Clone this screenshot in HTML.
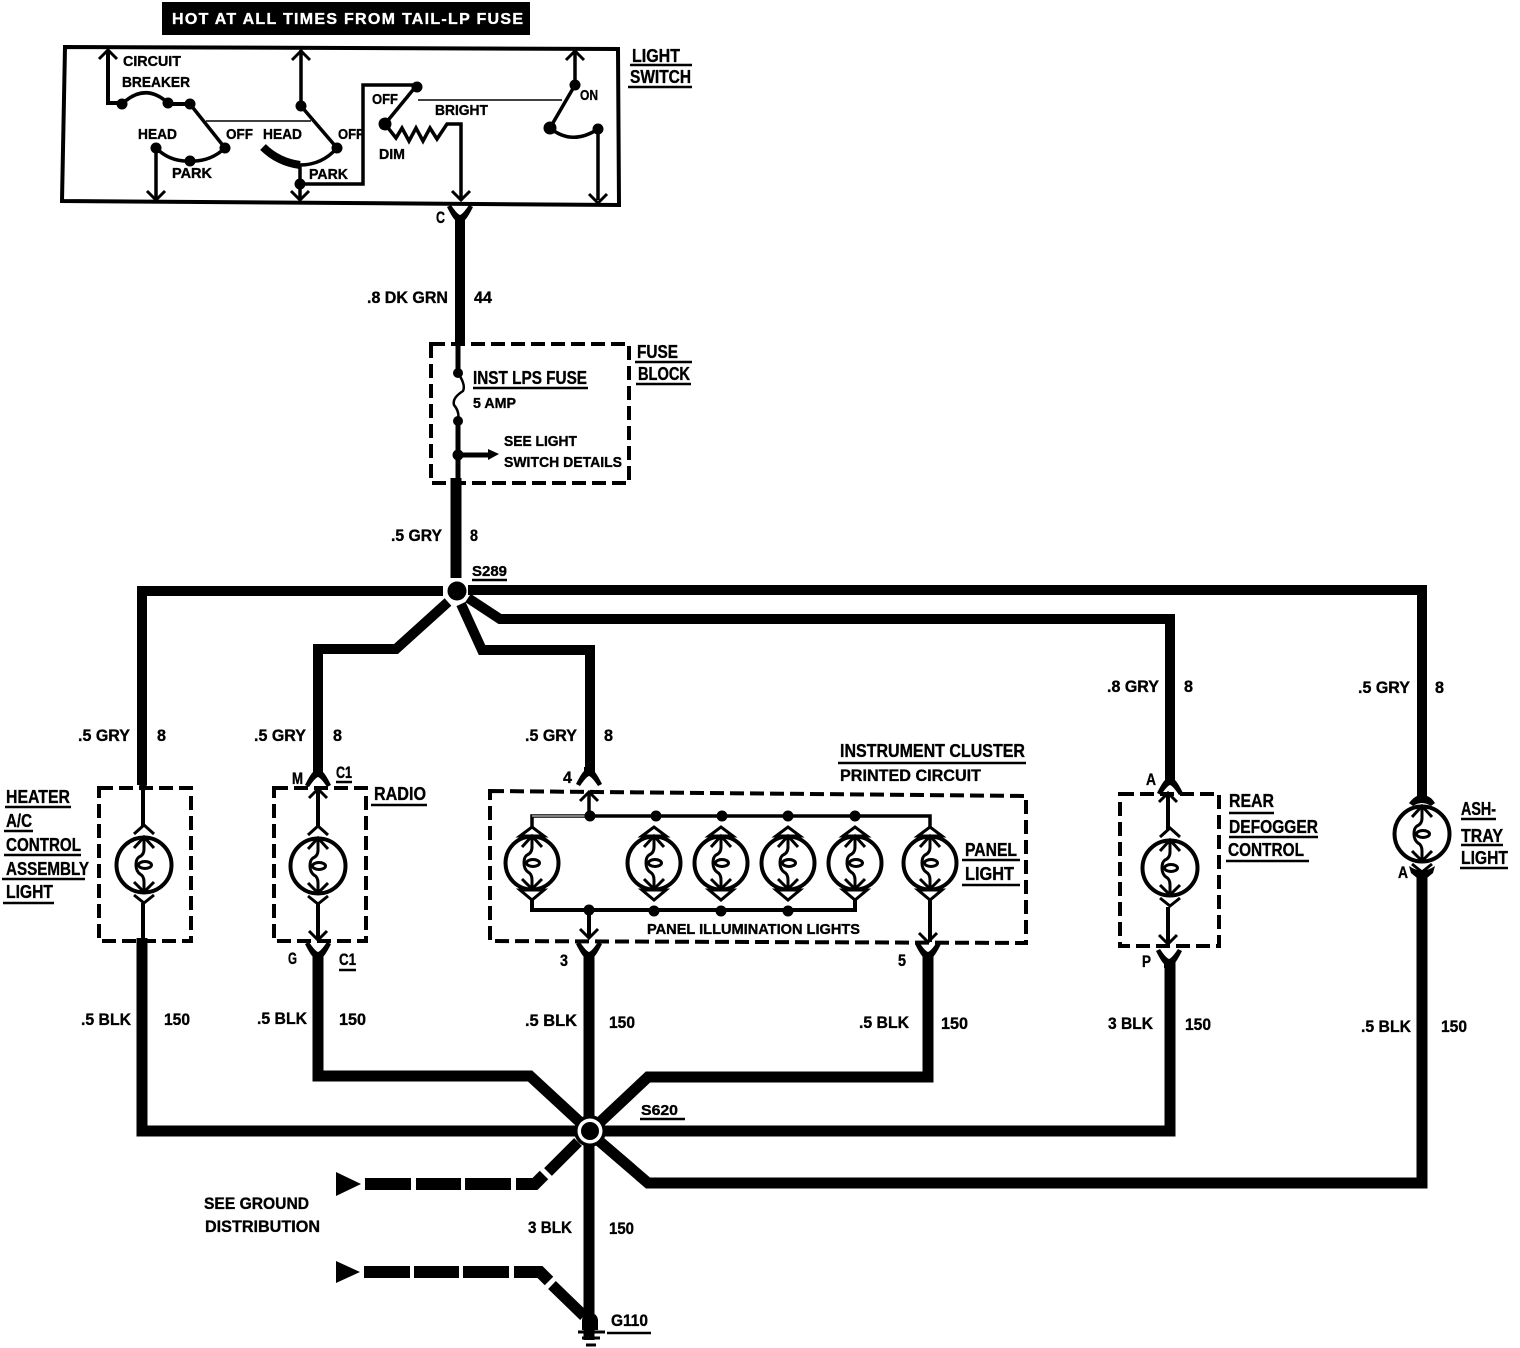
<!DOCTYPE html>
<html><head><meta charset="utf-8"><style>
html,body{margin:0;padding:0;background:#fff}
svg{display:block}
text{font-family:"Liberation Sans",sans-serif;font-weight:bold;font-size:17px;fill:#000;stroke:#000;stroke-width:.35px}
.s{font-size:14.5px}
.b{font-size:18px}
.w{stroke:#000;stroke-width:10;fill:none;stroke-linejoin:miter}
.t{stroke:#000;stroke-width:4;fill:none}
.h{stroke:#000;stroke-width:1.5;fill:none}
.d{stroke:#000;stroke-width:4;fill:none;stroke-dasharray:14 6}
.u{stroke:#000;stroke-width:2.5;fill:none}
</style></head><body>
<svg xmlns="http://www.w3.org/2000/svg" width="1520" height="1348" viewBox="0 0 1520 1348">
<defs>
<g id="b">
<circle r="27.5" fill="#fff" stroke="#000" stroke-width="4"/>
<path d="M-10,-31 L0,-40 L10,-31 M-10,-17 L0,-28 L10,-17 M-10,17 L0,27 L10,17 M-10,30 L0,38 L10,30" fill="none" stroke="#000" stroke-width="3"/>
<path d="M0,-27 V-16 Q0,-10 -5,-8 Q-8,-6 -8,0 Q-8,6 -4,9 Q0,11 0,17 V27" fill="none" stroke="#000" stroke-width="3"/>
<ellipse cx="1" cy="0" rx="6.5" ry="3.5" fill="none" stroke="#000" stroke-width="3"/>
</g>
<g id="p">
<circle r="26.5" fill="#fff" stroke="#000" stroke-width="4"/>
<path d="M-12,-27 L0,-36 L12,-27 Z M-12,27 L0,37 L12,27 Z" fill="#fff" stroke="#000" stroke-width="3"/>
<path d="M-10,-16 L0,-27 L10,-16 M-10,16 L0,26 L10,16" fill="none" stroke="#000" stroke-width="3"/>
<path d="M0,-27 V-16 Q0,-10 -5,-8 Q-8,-6 -8,0 Q-8,6 -4,9 Q0,11 0,17 V26" fill="none" stroke="#000" stroke-width="3"/>
<ellipse cx="1" cy="0" rx="6.5" ry="3.5" fill="none" stroke="#000" stroke-width="3"/>
</g>
<path id="fu" d="M-13,7 L-9,9 Q-3,0 0,-1 Q3,0 9,9 L13,7 Q8,-3 5,-6 V-10 H-5 V-6 Q-8,-3 -13,7 Z" fill="#000"/>
<path id="fd" d="M-13,-7 L-9,-9 Q-3,0 0,1 Q3,0 9,-9 L13,-7 Q8,3 5,6 V10 H-5 V6 Q-8,3 -13,-7 Z" fill="#000"/>
<path id="au" d="M-9,9 L0,0 L9,9" fill="none" stroke="#000" stroke-width="3"/>
<path id="ad" d="M-9,-9 L0,0 L9,-9" fill="none" stroke="#000" stroke-width="3"/>
</defs>

<!-- Title -->
<rect x="162" y="2" width="368" height="33" fill="#000"/>
<text x="172" y="24" textLength="351" lengthAdjust="spacing" style="fill:#fff;stroke:#fff;font-size:16px">HOT AT ALL TIMES FROM TAIL-LP FUSE</text>

<!-- Switch box -->
<path d="M65,47 L618,49 L619,205 L62,201 Z" class="t"/>
<path d="M108,50 V103 H122" class="t"/>
<path d="M122,104 Q145,82 168,103" fill="none" stroke="#000" stroke-width="3.5"/>
<path d="M168,104 H190 L225,148 Q210,162 190,161 Q170,162 156,148 V200" fill="none" stroke="#000" stroke-width="3.5"/>
<path d="M168,104 H190" class="t"/>
<path d="M206,121 H311" class="h"/>
<path d="M301,50 V106 L337,148 Q322,165 300,165 V200" fill="none" stroke="#000" stroke-width="3.5"/>
<path d="M263,147 Q278,162 300,165" fill="none" stroke="#000" stroke-width="8"/>
<path d="M300,184 H363 V85 H417 L385,124" fill="none" stroke="#000" stroke-width="3.5"/>
<path d="M385,124 L396,138 L402,128 L409,141 L416,128 L423,141 L430,128 L437,139 L447,124 H461 V200" fill="none" stroke="#000" stroke-width="3.5"/>
<path d="M418,100 H562" class="h"/>
<path d="M575,50 V85 L550,128 Q572,146 598,129 V200" fill="none" stroke="#000" stroke-width="3.5"/>
<g fill="#000">
<circle cx="122" cy="104" r="5.5"/><circle cx="168" cy="103" r="5.5"/><circle cx="190" cy="104" r="5.5"/>
<circle cx="225" cy="148" r="5.5"/><circle cx="190" cy="161" r="5.5"/><circle cx="156" cy="148" r="5.5"/>
<circle cx="301" cy="106" r="5.5"/><circle cx="337" cy="148" r="5.5"/><circle cx="300" cy="184" r="5.5"/>
<circle cx="417" cy="87" r="5.5"/><circle cx="385" cy="124" r="6.5"/>
<circle cx="575" cy="85" r="5.5"/><circle cx="550" cy="128" r="6.5"/><circle cx="598" cy="129" r="5.5"/>
</g>
<use href="#au" x="108" y="50"/><use href="#au" x="301" y="51"/><use href="#au" x="575" y="51"/>
<use href="#ad" x="156" y="200"/><use href="#ad" x="300" y="200"/><use href="#ad" x="461" y="200"/><use href="#ad" x="598" y="203"/>
<text class="s" x="123" y="66" textLength="58" lengthAdjust="spacingAndGlyphs">CIRCUIT</text>
<text class="s" x="122" y="87" textLength="68" lengthAdjust="spacingAndGlyphs">BREAKER</text>
<text class="s" x="138" y="139" textLength="39" lengthAdjust="spacingAndGlyphs">HEAD</text>
<text class="s" x="226" y="139" textLength="27" lengthAdjust="spacingAndGlyphs">OFF</text>
<text class="s" x="263" y="139" textLength="39" lengthAdjust="spacingAndGlyphs">HEAD</text>
<text class="s" x="338" y="139" textLength="26" lengthAdjust="spacingAndGlyphs">OFF</text>
<text class="s" x="372" y="104" textLength="26" lengthAdjust="spacingAndGlyphs">OFF</text>
<text class="s" x="435" y="115" textLength="53" lengthAdjust="spacingAndGlyphs">BRIGHT</text>
<text class="s" x="580" y="100" textLength="18" lengthAdjust="spacingAndGlyphs">ON</text>
<text class="s" x="379" y="159" textLength="26" lengthAdjust="spacingAndGlyphs">DIM</text>
<text class="s" x="172" y="178" textLength="40" lengthAdjust="spacingAndGlyphs">PARK</text>
<text class="s" x="309" y="179" textLength="39" lengthAdjust="spacingAndGlyphs">PARK</text>
<text class="b" x="632" y="62" textLength="48" lengthAdjust="spacingAndGlyphs">LIGHT</text>
<path d="M630,65 H692 M628,87 H692" class="u"/>
<text class="b" x="630" y="83" textLength="61" lengthAdjust="spacingAndGlyphs">SWITCH</text>

<!-- Top wire + fuse block -->
<use href="#fd" x="460" y="214"/>
<path d="M460,218 V342" class="w"/>
<text x="436" y="223" textLength="9" lengthAdjust="spacingAndGlyphs">C</text>
<text x="367" y="303" textLength="81" lengthAdjust="spacingAndGlyphs">.8 DK GRN</text>
<text x="474" y="303" textLength="18" lengthAdjust="spacingAndGlyphs">44</text>
<path d="M431,344 H629 V483 H431 Z" class="d"/>
<path d="M458,340 V373 M458,421 V480 M458,455 H490" fill="none" stroke="#000" stroke-width="5"/>
<path d="M458,373 Q466,385 463,391 Q452,398 454,405 Q460,412 458,421" fill="none" stroke="#000" stroke-width="2.5"/>
<path d="M488,449 L499,454 L488,460 Z" fill="#000"/>
<circle cx="458" cy="373" r="5"/><circle cx="458" cy="421" r="5"/><circle cx="458" cy="455" r="5.5"/>
<text class="b" x="473" y="384" textLength="114" lengthAdjust="spacingAndGlyphs">INST LPS FUSE</text>
<path d="M473,388 H588" class="u"/>
<text class="s" x="473" y="408" textLength="43" lengthAdjust="spacingAndGlyphs">5 AMP</text>
<text class="s" x="504" y="446" textLength="73" lengthAdjust="spacingAndGlyphs">SEE LIGHT</text>
<text class="s" x="504" y="467" textLength="118" lengthAdjust="spacingAndGlyphs">SWITCH DETAILS</text>
<text class="b" x="637" y="358" textLength="41" lengthAdjust="spacingAndGlyphs">FUSE</text>
<path d="M635,362 H692 M636,384 H691" class="u"/>
<text class="b" x="638" y="380" textLength="52" lengthAdjust="spacingAndGlyphs">BLOCK</text>
<path d="M456,478 V578" class="w" style="stroke-width:11"/>
<text x="391" y="541" textLength="51" lengthAdjust="spacingAndGlyphs">.5 GRY</text>
<text x="470" y="541" textLength="8" lengthAdjust="spacingAndGlyphs">8</text>
<text class="s" x="472" y="576" textLength="35" lengthAdjust="spacingAndGlyphs">S289</text>
<path d="M472,580 H507" class="u"/>

<!-- S289 -->
<path d="M443,591 H142 V785" class="w"/>
<path d="M448,602 L396,649 H318 V772" class="w"/>
<path d="M461,604 L482,650 H590 V772" class="w"/>
<path d="M468,598 L500,619 H1170 V782" class="w"/>
<path d="M468,590 H1422 V800" class="w"/>
<circle cx="457" cy="591" r="9.5"/>

<text x="78" y="741" textLength="52" lengthAdjust="spacingAndGlyphs">.5 GRY</text>
<text x="157" y="741" textLength="9" lengthAdjust="spacingAndGlyphs">8</text>
<text x="254" y="741" textLength="52" lengthAdjust="spacingAndGlyphs">.5 GRY</text>
<text x="333" y="741" textLength="9" lengthAdjust="spacingAndGlyphs">8</text>
<text x="525" y="741" textLength="52" lengthAdjust="spacingAndGlyphs">.5 GRY</text>
<text x="604" y="741" textLength="9" lengthAdjust="spacingAndGlyphs">8</text>
<text x="1107" y="692" textLength="52" lengthAdjust="spacingAndGlyphs">.8 GRY</text>
<text x="1184" y="692" textLength="9" lengthAdjust="spacingAndGlyphs">8</text>
<text x="1358" y="693" textLength="52" lengthAdjust="spacingAndGlyphs">.5 GRY</text>
<text x="1435" y="693" textLength="9" lengthAdjust="spacingAndGlyphs">8</text>

<!-- Heater -->
<rect x="99" y="788" width="92" height="153" class="d"/>
<path d="M143,785 V826 M143,903 V940" class="t"/>
<use href="#b" x="144" y="865"/>
<path d="M142,938 V1131 H580" class="w" style="stroke-width:11"/>
<circle cx="143" cy="787" r="4"/>
<text class="b" x="6" y="803" textLength="64" lengthAdjust="spacingAndGlyphs">HEATER</text>
<text class="b" x="6" y="827" textLength="26" lengthAdjust="spacingAndGlyphs">A/C</text>
<text class="b" x="6" y="851" textLength="75" lengthAdjust="spacingAndGlyphs">CONTROL</text>
<text class="b" x="6" y="875" textLength="83" lengthAdjust="spacingAndGlyphs">ASSEMBLY</text>
<text class="b" x="6" y="898" textLength="47" lengthAdjust="spacingAndGlyphs">LIGHT</text>
<path d="M5,807 H71 M4,831 H33 M4,855 H81 M2,879 H85 M3,903 H54" class="u"/>

<!-- Radio -->
<rect x="274" y="788" width="92" height="153" class="d"/>
<use href="#fu" x="318" y="778"/>
<path d="M318,790 V826 M318,903 V940" class="t"/>
<use href="#au" x="318" y="789"/>
<use href="#ad" x="318" y="940"/>
<use href="#b" x="318" y="866"/>
<use href="#fd" x="318" y="951"/>
<path d="M318,955 V1076 H530 L582,1124" class="w" style="stroke-width:11"/>
<text x="292" y="784" textLength="11" lengthAdjust="spacingAndGlyphs">M</text>
<text x="336" y="778" textLength="16" lengthAdjust="spacingAndGlyphs">C1</text>
<path d="M336,782 H352 M339,970 H356" class="u"/>
<text x="288" y="964" textLength="9" lengthAdjust="spacingAndGlyphs">G</text>
<text x="339" y="965" textLength="17" lengthAdjust="spacingAndGlyphs">C1</text>
<text class="b" x="374" y="800" textLength="52" lengthAdjust="spacingAndGlyphs">RADIO</text>
<path d="M371,805 H427" class="u"/>

<!-- Panel -->
<path d="M490,791 L1026,796 L1026,943 L490,941 Z" class="d"/>
<use href="#fu" x="589" y="777"/>
<use href="#au" x="589" y="792"/>
<path d="M589,792 V816 M590,816 H930 V828 M532,827 V816 H590" fill="none" stroke="#000" stroke-width="3.5"/>
<path d="M532,816 H590" stroke="#fff" stroke-width="1"/>
<path d="M532,900 V910 H855 V900 M589,910 V936" fill="none" stroke="#000" stroke-width="4"/>
<path d="M930,900 V942" class="t"/>
<use href="#ad" x="589" y="938"/>
<use href="#ad" x="928" y="942"/>
<g fill="#000">
<circle cx="590" cy="816" r="5.5"/><circle cx="656" cy="816" r="5.5"/><circle cx="722" cy="816" r="5.5"/><circle cx="788" cy="816" r="5.5"/><circle cx="855" cy="816" r="5.5"/>
<circle cx="589" cy="910" r="5.5"/><circle cx="654" cy="911" r="5.5"/><circle cx="721" cy="911" r="5.5"/><circle cx="788" cy="911" r="5.5"/>
</g>
<use href="#p" x="532" y="863"/><use href="#p" x="654" y="863"/><use href="#p" x="721" y="863"/><use href="#p" x="788" y="863"/><use href="#p" x="855" y="863"/><use href="#p" x="930" y="863"/>
<use href="#fd" x="589" y="951"/>
<use href="#fd" x="928" y="951"/>
<path d="M589,955 V1340" class="w" style="stroke-width:11"/>
<path d="M928,955 V1077 H648 L598,1124" class="w" style="stroke-width:11"/>
<text x="563" y="783" textLength="9" lengthAdjust="spacingAndGlyphs">4</text>
<text x="560" y="966" textLength="8" lengthAdjust="spacingAndGlyphs">3</text>
<text x="898" y="966" textLength="8" lengthAdjust="spacingAndGlyphs">5</text>
<text class="b" x="840" y="757" textLength="185" lengthAdjust="spacingAndGlyphs">INSTRUMENT CLUSTER</text>
<path d="M838,763 H1026" class="u"/>
<text x="840" y="781" textLength="141" lengthAdjust="spacingAndGlyphs">PRINTED CIRCUIT</text>
<text class="b" x="965" y="856" textLength="52" lengthAdjust="spacingAndGlyphs">PANEL</text>
<path d="M962,860 H1020 M962,885 H1020" class="u"/>
<text class="b" x="965" y="880" textLength="49" lengthAdjust="spacingAndGlyphs">LIGHT</text>
<text class="s" x="647" y="934" textLength="213" lengthAdjust="spacingAndGlyphs">PANEL ILLUMINATION LIGHTS</text>

<!-- Rear defogger -->
<path d="M1120,794 H1219 V946 H1120 Z" class="d"/>
<use href="#fu" x="1170" y="786"/>
<use href="#au" x="1168" y="793"/>
<path d="M1168,793 V830 M1168,907 V944" class="t"/>
<use href="#ad" x="1168" y="944"/>
<use href="#b" x="1170" y="868"/>
<use href="#fd" x="1169" y="958"/>
<path d="M1170,962 V1131 H600" class="w" style="stroke-width:11"/>
<text x="1146" y="785" textLength="10" lengthAdjust="spacingAndGlyphs">A</text>
<text x="1142" y="967" textLength="9" lengthAdjust="spacingAndGlyphs">P</text>
<text class="b" x="1229" y="807" textLength="45" lengthAdjust="spacingAndGlyphs">REAR</text>
<text class="b" x="1229" y="833" textLength="89" lengthAdjust="spacingAndGlyphs">DEFOGGER</text>
<text class="b" x="1228" y="856" textLength="76" lengthAdjust="spacingAndGlyphs">CONTROL</text>
<path d="M1229,813 H1274 M1229,837 H1318 M1226,861 H1309" class="u"/>

<!-- Ashtray -->
<use href="#b" x="1422" y="834"/>
<path d="M1409,803 Q1414,797 1417,796 H1427 Q1431,797 1435,803 L1431,806 Q1422,800 1413,806 Z" fill="#000"/>
<path d="M1409,866 Q1422,875 1435,866 L1433,873 L1427,878 H1417 L1411,873 Z" fill="#000"/>
<path d="M1422,875 V1183 H648 L598,1140" class="w" style="stroke-width:11"/>
<text x="1398" y="878" textLength="10" lengthAdjust="spacingAndGlyphs">A</text>
<text class="b" x="1461" y="815" textLength="35" lengthAdjust="spacingAndGlyphs">ASH-</text>
<text class="b" x="1461" y="842" textLength="42" lengthAdjust="spacingAndGlyphs">TRAY</text>
<text class="b" x="1461" y="864" textLength="47" lengthAdjust="spacingAndGlyphs">LIGHT</text>
<path d="M1461,819 H1496 M1461,845 H1503 M1460,868 H1508" class="u"/>

<!-- Lower labels -->
<text x="81" y="1025" textLength="50" lengthAdjust="spacingAndGlyphs">.5 BLK</text>
<text x="164" y="1025" textLength="26" lengthAdjust="spacingAndGlyphs">150</text>
<text x="257" y="1024" textLength="50" lengthAdjust="spacingAndGlyphs">.5 BLK</text>
<text x="339" y="1025" textLength="27" lengthAdjust="spacingAndGlyphs">150</text>
<text x="525" y="1026" textLength="52" lengthAdjust="spacingAndGlyphs">.5 BLK</text>
<text x="609" y="1028" textLength="26" lengthAdjust="spacingAndGlyphs">150</text>
<text x="859" y="1028" textLength="50" lengthAdjust="spacingAndGlyphs">.5 BLK</text>
<text x="941" y="1029" textLength="27" lengthAdjust="spacingAndGlyphs">150</text>
<text x="1108" y="1029" textLength="45" lengthAdjust="spacingAndGlyphs">3 BLK</text>
<text x="1185" y="1030" textLength="26" lengthAdjust="spacingAndGlyphs">150</text>
<text x="1361" y="1032" textLength="50" lengthAdjust="spacingAndGlyphs">.5 BLK</text>
<text x="1441" y="1032" textLength="26" lengthAdjust="spacingAndGlyphs">150</text>
<text x="528" y="1233" textLength="44" lengthAdjust="spacingAndGlyphs">3 BLK</text>
<text x="609" y="1234" textLength="25" lengthAdjust="spacingAndGlyphs">150</text>
<text class="s" x="641" y="1115" textLength="37" lengthAdjust="spacingAndGlyphs">S620</text>
<path d="M640,1119 H685" class="u"/>
<text x="611" y="1326" textLength="37" lengthAdjust="spacingAndGlyphs">G110</text>
<path d="M607,1333 H651" class="u"/>
<text x="204" y="1209" textLength="105" lengthAdjust="spacingAndGlyphs">SEE GROUND</text>
<text x="205" y="1232" textLength="115" lengthAdjust="spacingAndGlyphs">DISTRIBUTION</text>

<!-- S620 hub -->
<circle cx="590" cy="1131" r="16" fill="#000"/>
<circle cx="590" cy="1131" r="12.5" fill="#fff"/>
<circle cx="590" cy="1131" r="9" fill="#000"/>

<!-- Ground dashed feeds -->
<path d="M336,1172 L361,1184 L336,1196 Z" fill="#000"/>
<path d="M365,1184 H411 M416,1184 H461 M465,1184 H511 M516,1184 H535 L544,1175" class="w" style="stroke-width:12"/>
<path d="M548,1172 L578,1142" class="w" style="stroke-width:11"/>
<path d="M336,1261 L360,1272 L336,1283 Z" fill="#000"/>
<path d="M364,1272 H410 M414,1272 H459 M463,1272 H509 M514,1272 H540 L549,1281" class="w" style="stroke-width:12"/>
<path d="M552,1285 L584,1316" class="w" style="stroke-width:11"/>

<!-- Ground symbol -->
<path d="M582,1330 V1320 Q583,1313 590,1313 Q597,1313 598,1320 V1330 Z" fill="#000"/>
<path d="M578,1332 H605 M582,1338 H600 M586,1345 H596" fill="none" stroke="#000" stroke-width="3"/>
</svg>
</body></html>
